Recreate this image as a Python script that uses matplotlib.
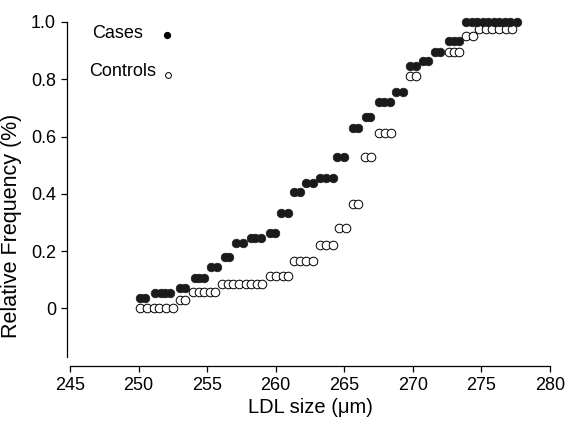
import matplotlib
matplotlib.use("Agg")
import matplotlib.pyplot as plt
from matplotlib.ticker import FixedLocator, FixedFormatter

plt.rcParams['font.family'] = ['Liberation Sans', 'DejaVu Sans']

# Cases (filled)
cases_x = [250.1, 250.5,
           251.2, 251.6, 251.9, 252.3,
           253.0, 253.4,
           254.1, 254.4, 254.75,
           255.3, 255.7,
           256.3, 256.6,
           257.1, 257.6,
           258.2, 258.5, 258.9,
           259.6, 259.95,
           260.4, 260.9,
           261.3, 261.8,
           262.2, 262.7,
           263.2, 263.7, 264.2,
           264.5, 265.0,
           265.6, 266.0,
           266.6, 266.9,
           267.5, 267.9, 268.3,
           268.8, 269.3,
           269.8, 270.2,
           270.75, 271.1,
           271.6, 272.0,
           272.6, 273.0, 273.4,
           273.9, 274.3, 274.7, 275.1, 275.5, 275.9, 276.3, 276.7, 277.1, 277.6]
cases_y = [0.035, 0.035,
           0.053, 0.053, 0.053, 0.053,
           0.07, 0.07,
           0.105, 0.105, 0.105,
           0.144, 0.144,
           0.179, 0.179,
           0.228, 0.228,
           0.247, 0.247, 0.247,
           0.264, 0.264,
           0.334, 0.334,
           0.405, 0.405,
           0.437, 0.437,
           0.455, 0.455, 0.455,
           0.529, 0.529,
           0.63, 0.63,
           0.669, 0.669,
           0.722, 0.722, 0.722,
           0.756, 0.756,
           0.845, 0.845,
           0.865, 0.865,
           0.896, 0.896,
           0.932, 0.932, 0.932,
           1.0, 1.0, 1.0, 1.0, 1.0, 1.0, 1.0, 1.0, 1.0, 1.0]

# Controls (open)
controls_x = [250.1, 250.6, 251.1, 251.5, 252.0, 252.5,
              253.0, 253.4,
              253.95, 254.4, 254.8, 255.2, 255.6,
              256.1, 256.5, 256.9, 257.3, 257.8, 258.2, 258.6, 259.0,
              259.6, 260.0, 260.5, 260.9,
              261.3, 261.75, 262.2, 262.7,
              263.2, 263.65, 264.2,
              264.6, 265.1,
              265.6, 266.0,
              266.5, 266.95,
              267.5, 267.95, 268.4,
              269.8, 270.2,
              272.6, 273.0, 273.4,
              273.9, 274.4,
              274.85, 275.3, 275.8, 276.3, 276.8, 277.2]
controls_y = [0.0] * 6 + [0.028] * 2 + [0.057] * 5 + [0.084] * 8 + [0.112] * 4 + \
             [0.166] * 4 + [0.221] * 3 + [0.28] * 2 + [0.364] * 2 + [0.529] * 2 + \
             [0.613] * 3 + [0.812] * 2 + [0.894] * 3 + [0.95] * 2 + [0.975] * 6

x_ticks = [245, 250, 255, 260, 265, 270, 275, 280]
y_ticks = [0, 0.2, 0.4, 0.6, 0.8, 1.0]
y_ticklabels = ["0", "0.2", "0.4", "0.6", "0.8", "1.0"]

fig = plt.figure(figsize=(5.8, 4.28), dpi=100)
ax = fig.add_axes([70 / 580, (428 - 357) / 428, 480 / 580, (357 - 22) / 428])

ax.plot(controls_x, controls_y, 'o', ls='none', ms=6.2, mfc='white', mec='black',
        mew=0.7, clip_on=False, zorder=2)
ax.plot(cases_x, cases_y, 'o', ls='none', ms=6.2, mfc='#1a1a1a', mec='#1a1a1a',
        mew=0.5, clip_on=False, zorder=3)

ax.set_xlim(245, 280)
ax.set_ylim(-0.17, 1.0)
ax.xaxis.set_major_locator(FixedLocator(x_ticks))
ax.yaxis.set_major_locator(FixedLocator(y_ticks))
ax.yaxis.set_major_formatter(FixedFormatter(y_ticklabels))

for s in ['top', 'right']:
    ax.spines[s].set_visible(False)
ax.spines['left'].set_position(('outward', 2))
ax.spines['bottom'].set_position(('outward', 6.5))
for s in ['left', 'bottom']:
    ax.spines[s].set_linewidth(0.9)
ax.tick_params(direction='out', length=4, width=0.9, labelsize=13, pad=4)

ax.set_xlabel("LDL size (μm)", fontsize=14.5, labelpad=3)
ax.set_ylabel("Relative Frequency (%)", fontsize=15.5)
ax.yaxis.set_label_coords(-0.1, 0.39)

# legend-like annotation
fig.text(92 / 580, 1 - 34 / 428, "Cases", fontsize=13, va='center', ha='left')
fig.text(89 / 580, 1 - 72 / 428, "Controls", fontsize=13, va='center', ha='left')
fig.lines.append(plt.Line2D([167 / 580], [1 - 35 / 428], marker='o', ms=4.2,
                            mfc='black', mec='black', transform=fig.transFigure))
fig.lines.append(plt.Line2D([168 / 580], [1 - 75 / 428], marker='o', ms=4.2,
                            mfc='white', mec='black', mew=0.7, transform=fig.transFigure))

fig.savefig("out.png", dpi=100)
